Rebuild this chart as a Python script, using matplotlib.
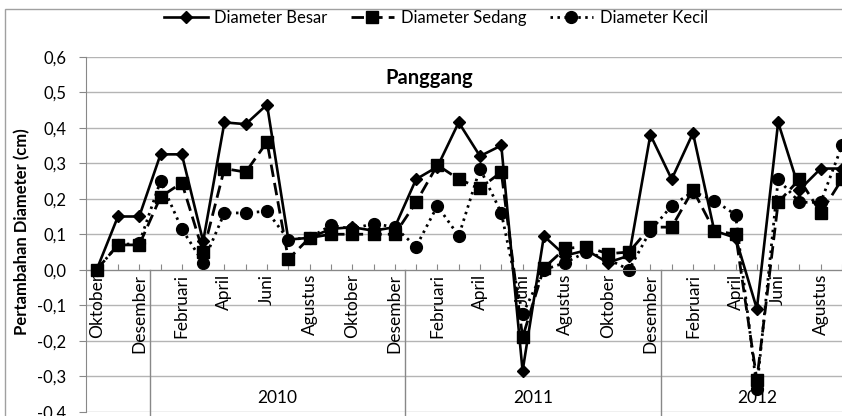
import numpy as np
import matplotlib.pyplot as plt
from matplotlib.patches import Rectangle

plt.rcParams['font.family'] = ['Lato', 'DejaVu Sans']

# kategori bulan Okt 2009 - Sep 2012
months = (["Oktober", "November", "Desember"]
          + ["Januari", "Februari", "Maret", "April", "Mei", "Juni", "Juli",
             "Agustus", "September", "Oktober", "November", "Desember"] * 2
          + ["Januari", "Februari", "Maret", "April", "Mei", "Juni", "Juli",
             "Agustus", "September"])
year_labels = ["", "2010", "2011", "2012"]
year_sizes = [3, 12, 12, 9]

besar = [0.0, 0.15, 0.15, 0.325, 0.325, 0.08, 0.415, 0.41, 0.465, 0.085,
         0.09, 0.115, 0.12, 0.11, 0.12, 0.255, 0.29, 0.415, 0.32, 0.35,
         -0.285, 0.095, 0.04, 0.055, 0.02, 0.04, 0.38, 0.255, 0.385, 0.11,
         0.09, -0.11, 0.415, 0.225, 0.285, 0.285]
sedang = [0.0, 0.07, 0.07, 0.205, 0.245, 0.05, 0.285, 0.275, 0.36, 0.03,
          0.09, 0.1, 0.1, 0.1, 0.1, 0.19, 0.295, 0.255, 0.23, 0.275,
          -0.19, 0.005, 0.06, 0.065, 0.045, 0.05, 0.12, 0.12, 0.225, 0.11,
          0.1, -0.31, 0.19, 0.255, 0.16, 0.255]
kecil = [0.0, 0.07, 0.075, 0.25, 0.115, 0.02, 0.16, 0.16, 0.165, 0.085,
         0.09, 0.125, 0.115, 0.13, 0.12, 0.065, 0.18, 0.095, 0.285, 0.16,
         -0.125, 0.0, 0.02, 0.05, 0.03, 0.0, 0.11, 0.18, 0.22, 0.195,
         0.155, -0.335, 0.255, 0.19, 0.19, 0.35]

W, H = 842, 416
fig = plt.figure(figsize=(W / 100, H / 100), dpi=100)
ax = fig.add_axes([86 / W, 1 - 411.8 / H, (852.7 - 86) / W, (411.8 - 56.7) / H])

x = np.arange(len(months))
l1, = ax.plot(x, besar, color='black', lw=1.9, marker='D', ms=6.5,
              label='Diameter Besar', zorder=4)
l2, = ax.plot(x, sedang, color='black', lw=2.0, dashes=(4.5, 2.2), marker='s',
              ms=8, label='Diameter Sedang', zorder=3)
l3, = ax.plot(x, kecil, color='black', lw=2.0, dashes=(0.9, 1.6), marker='o',
              ms=8.5, label='Diameter Kecil', zorder=2)

yt = np.arange(-0.4, 0.61, 0.1)
ax.set_xlim(-0.5, len(months) - 0.5)
ax.set_ylim(-0.4, 0.6)
ax.set_yticks(yt)
ax.set_yticklabels([f"{v:.1f}".replace('.', ',').replace('-0,0', '0,0')
                    for v in yt], fontsize=12)
ax.yaxis.grid(True, color='#b4b4b4', lw=1)
ax.set_axisbelow(True)
ax.tick_params(axis='y', length=5, color='#888888', pad=9)

for s in ['top', 'right']:
    ax.spines[s].set_visible(False)
ax.spines['left'].set_color('#888888')
ax.spines['bottom'].set_color('#888888')
ax.spines['bottom'].set_position(('data', 0))
ax.set_xticks(x)
ax.tick_params(axis='x', direction='in', length=4, color='#888888',
               labelbottom=False)

# label bulan (tiap dua bulan) di bawah sumbu
for i, m in enumerate(months):
    if i % 2 == 0:
        ax.annotate(m, (i, 0), xytext=(0, -3), textcoords='offset points',
                    rotation=90, ha='center', va='top', fontsize=12.5)

# pemisah tahun dan label tahun
start = 0
for lab, n in zip(year_labels, year_sizes):
    end = start + n
    if start > 0:
        ax.plot([start - 0.5, start - 0.5], [0, -0.45], color='#888888',
                lw=1, clip_on=False)
    ax.text((start + end - 1) / 2, -0.36, lab, ha='center', va='center',
            fontsize=12.5)
    start = end

fig.text(429 / W, 1 - 78 / H, 'Panggang', ha='center', va='center',
         fontsize=14.5, fontweight='bold')
fig.text(22 / W, 1 - 232 / H, 'Pertambahan Diameter (cm)', rotation=90,
         ha='center', va='center', fontsize=12, fontweight='bold')

fig.legend(handles=[l1, l2, l3], loc='center', ncol=3,
           bbox_to_anchor=(436 / W, 1 - 18 / H), frameon=False,
           fontsize=12, handlelength=2.6, columnspacing=1.4,
           handletextpad=0.4)

fig.add_artist(Rectangle((5 / W, -0.1), 1.2, 1 - 9 / H + 0.1, fill=False,
                         edgecolor='#a0a0a0', lw=1,
                         transform=fig.transFigure))

fig.savefig('out.png', dpi=100)
